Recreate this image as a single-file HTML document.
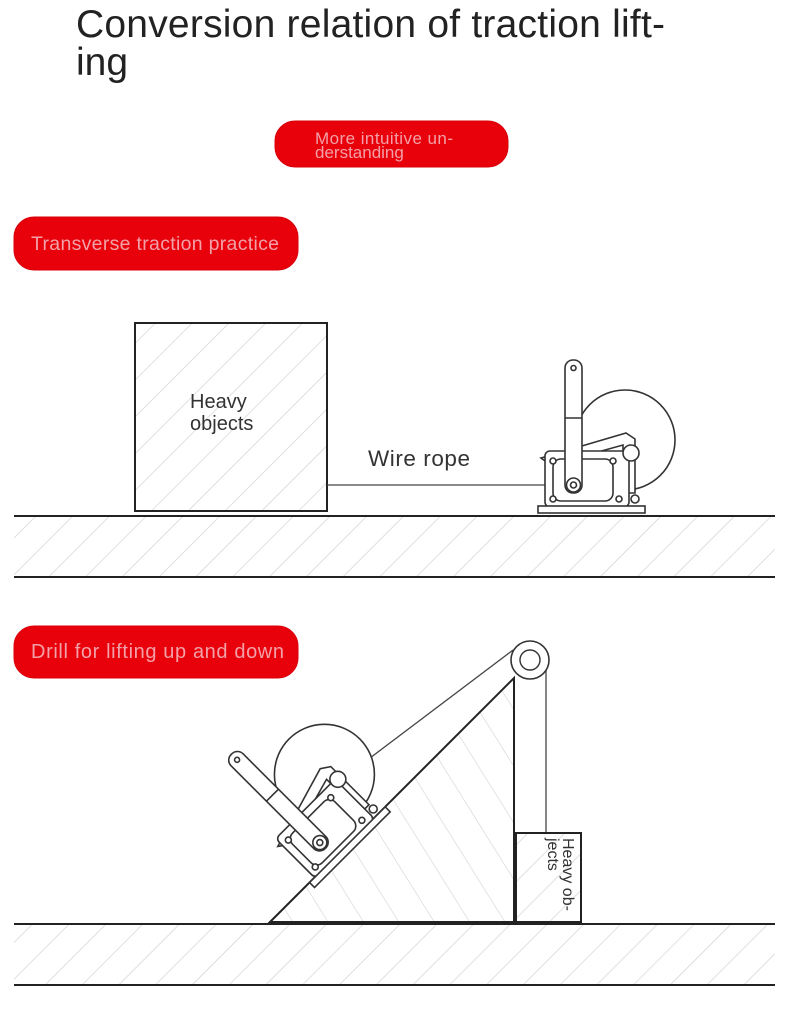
<!DOCTYPE html>
<html><head><meta charset="utf-8"><style>
html,body{margin:0;padding:0;background:#fff;width:800px;height:1013px;overflow:hidden}
svg{display:block}
</style></head><body>
<svg width="800" height="1013" viewBox="0 0 800 1013" xmlns="http://www.w3.org/2000/svg">
<defs>
<pattern id="h" patternUnits="userSpaceOnUse" width="26" height="26" patternTransform="rotate(45)">
<line x1="0" y1="0" x2="0" y2="26" stroke="#cfcfcf" stroke-width="1.3"/>
</pattern>
<pattern id="h2" patternUnits="userSpaceOnUse" width="30" height="30" patternTransform="rotate(58)">
<line x1="0" y1="0" x2="30" y2="0" stroke="#d4d4d4" stroke-width="1.3"/>
</pattern>
<g id="w" fill="#fff" stroke="#333" stroke-width="1.6">
<circle cx="34" cy="-73" r="50"/>
<path d="M-50,-55 L35,-80 L44,-74 L44,-20 L32,-20 L32,-68 L-40,-48 Z"/>
<rect x="-46" y="-62" width="84" height="56" rx="5"/>
<rect x="-38" y="-54" width="60" height="42" rx="8"/>
<circle cx="-38" cy="-52" r="3"/><circle cx="-38" cy="-14" r="3"/><circle cx="28" cy="-14" r="3"/><circle cx="22" cy="-52" r="3"/>
<circle cx="40" cy="-60" r="8"/>
<circle cx="44" cy="-14" r="4"/>
<rect x="-26" y="-153" width="17" height="133" rx="8"/>
<line x1="-26" y1="-95" x2="-9" y2="-95"/>
<circle cx="-17.5" cy="-145" r="2.5"/>
<circle cx="-17.5" cy="-28" r="7"/><circle cx="-17.5" cy="-28" r="3"/>
<rect x="-53" y="-7" width="107" height="7"/>
</g>
</defs>
<text x="76" y="37" font-family="Liberation Sans, sans-serif" font-size="39" textLength="589" fill="#222">Conversion relation of traction lift-</text>
<text x="76" y="75" font-family="Liberation Sans, sans-serif" font-size="39" fill="#222">ing</text>

<rect x="275" y="121" width="233" height="46" rx="20" fill="#e8000a" stroke="#d8000a"/>
<text font-family="Liberation Sans, sans-serif" font-size="17" fill="#f3a0a8"><tspan x="315" y="144" textLength="138">More intuitive un-</tspan><tspan x="315" y="158">derstanding</tspan></text>

<rect x="14" y="217" width="284" height="53" rx="20" fill="#e8000a" stroke="#d8000a"/>
<text x="31" y="250" font-family="Liberation Sans, sans-serif" font-size="19.5" textLength="248" fill="#f3a0a8">Transverse traction practice</text>

<rect x="14" y="626" width="284" height="52" rx="20" fill="#e8000a" stroke="#d8000a"/>
<text x="31" y="658" font-family="Liberation Sans, sans-serif" font-size="20" textLength="253" fill="#f3a0a8">Drill for lifting up and down</text>

<!-- top scene -->
<rect x="135" y="323" width="192" height="188" fill="url(#h)" stroke="#222" stroke-width="2"/>
<text font-family="Liberation Sans, sans-serif" font-size="20" fill="#333"><tspan x="190" y="408">Heavy</tspan><tspan x="190" y="430">objects</tspan></text>
<line x1="327" y1="485" x2="545" y2="485" stroke="#444" stroke-width="1.3"/>
<text x="368" y="466" font-family="Liberation Sans, sans-serif" font-size="22.5" textLength="102" fill="#333">Wire rope</text>
<use href="#w" transform="translate(591,513)"/>
<rect x="14" y="517" width="761" height="60" fill="url(#h)"/>
<line x1="14" y1="516" x2="775" y2="516" stroke="#222" stroke-width="2"/>
<line x1="14" y1="577" x2="775" y2="577" stroke="#222" stroke-width="2"/>

<!-- bottom scene -->
<polygon points="270,922 514,678 514,922" fill="url(#h2)" stroke="#222" stroke-width="2"/>
<line x1="513" y1="650" x2="370" y2="758" stroke="#444" stroke-width="1.3"/>
<line x1="546" y1="662" x2="546" y2="833" stroke="#444" stroke-width="1.3"/>
<circle cx="530" cy="660" r="19" fill="#fff" stroke="#333" stroke-width="1.6"/>
<circle cx="530" cy="660" r="10" fill="#fff" stroke="#333" stroke-width="1.4"/>
<use href="#w" transform="translate(352,850) rotate(-45)"/>
<rect x="516" y="833" width="65" height="89" fill="url(#h)" stroke="#222" stroke-width="2"/>
<text transform="translate(563,838) rotate(90)" font-family="Liberation Sans, sans-serif" font-size="16" fill="#333"><tspan x="0" y="0">Heavy ob-</tspan><tspan x="0" y="15">jects</tspan></text>
<rect x="14" y="925" width="761" height="60" fill="url(#h)"/>
<line x1="14" y1="924" x2="775" y2="924" stroke="#222" stroke-width="2"/>
<line x1="14" y1="985" x2="775" y2="985" stroke="#222" stroke-width="2"/>
</svg>
</body></html>
